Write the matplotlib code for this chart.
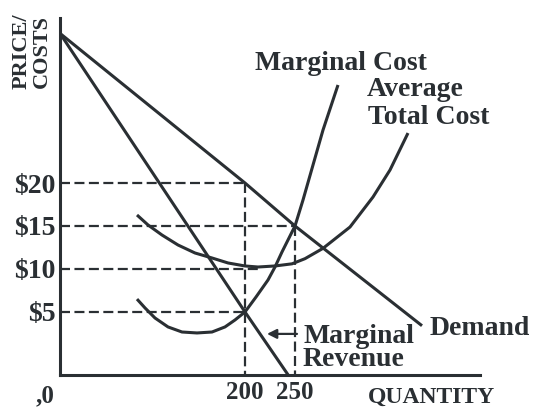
import numpy as np
import matplotlib.pyplot as plt

#-------------------------------------------------------------------------------
# Values (quantity, price in $)
demand_q = [15, 200, 250, 377]
demand_p = [37.4, 20, 15, 3.4]

mr_q = [15, 200, 243]
mr_p = [37.4, 5, -2.3]

mc_q = [92, 100, 110, 123, 137, 152, 167, 180, 190, 200, 211, 223, 230, 237,
        250, 258, 268, 278, 293]
mc_p = [6.5, 5.47, 4.3, 3.26, 2.67, 2.56, 2.67, 3.26, 4.07, 5.0, 6.74, 8.72,
        10.23, 11.98, 15.0, 18.02, 22.09, 26.16, 31.4]

atc_q = [92, 103, 117, 133, 150, 167, 183, 200, 213, 230, 247, 260, 278, 305,
         328, 345, 363]
atc_p = [16.28, 15.12, 13.95, 12.79, 11.86, 11.28, 10.7, 10.35, 10.23, 10.35,
         10.6, 11.2, 12.4, 14.88, 18.37, 21.51, 25.81]

guide_p = [20, 15, 10, 5]
guide_q = [200, 250, 213, 200]
drop_q = [200, 250]
drop_p = [20, 15]

price_ticks = [5, 10, 15, 20]
price_labels = [r'\$5', r'\$10', r'\$15', r'\$20']
qty_ticks = [200, 250]
qty_labels = ['200', '250']

#-------------------------------------------------------------------------------
W, H = 535, 408
INK = '#2a2f33'
SERIF = 'Liberation Serif'
plt.rcParams['font.family'] = SERIF
plt.rcParams['font.weight'] = 'bold'

fig = plt.figure(figsize=(W / 100, H / 100), dpi=100)
ax = fig.add_axes([60 / W, 1 - 375 / H, 420 / W, 357 / H])
ax.set_xlim(15, 435)
ax.set_ylim(-2.33, 39.19)

for side in ['top', 'right']:
    ax.spines[side].set_visible(False)
for side in ['left', 'bottom']:
    ax.spines[side].set_linewidth(2.2)
    ax.spines[side].set_color(INK)

# dashed guides
for q, p in zip(guide_q, guide_p):
    ax.plot([15, q], [p, p], color=INK, lw=1.6, dashes=(4.5, 2.0))
for q, p in zip(drop_q, drop_p):
    ax.plot([q, q], [p, -2.33], color=INK, lw=1.6, dashes=(4.5, 2.0))

# curves
curve_kw = dict(color=INK, lw=2.2, solid_capstyle='butt', solid_joinstyle='round')
ax.plot(demand_q, demand_p, **curve_kw)
ax.plot(mr_q, mr_p, **curve_kw)
ax.plot(mc_q, mc_p, **curve_kw)
ax.plot(atc_q, atc_p, **curve_kw)

# arrow to marginal revenue
ax.annotate('', xy=(222, 2.45), xytext=(252, 2.45),
            arrowprops=dict(arrowstyle='-|>', color=INK, lw=1.6,
                            mutation_scale=14, shrinkA=0, shrinkB=0))

ax.set_yticks(price_ticks, price_labels)
ax.set_xticks(qty_ticks, qty_labels)
ax.tick_params(axis='y', length=0, pad=3, labelsize=20, labelcolor=INK)
ax.tick_params(axis='x', length=0, pad=4, labelsize=18, labelcolor=INK)

#-------------------------------------------------------------------------------
def label(x, y, s, size=20, **kw):
    fig.text(x / W, 1 - y / H, s, fontsize=size, color=INK, family=SERIF,
             fontweight='bold', va='baseline', **kw)

label(255, 70, 'Marginal Cost')
label(367, 96, 'Average')
label(368, 124, 'Total Cost')
label(430, 335, 'Demand')
label(303, 343, 'Marginal')
label(303, 366, 'Revenue')
label(368, 403, 'QUANTITY', size=17)
label(54, 402, ',0', size=18, ha='right')

fig.text(32 / W, 1 - 51 / H, 'PRICE/\nCOSTS', fontsize=16, fontweight='bold',
         color=INK, family=SERIF, rotation=90, ha='center', va='center',
         linespacing=1.0)

fig.savefig('out.png', dpi=100, facecolor='white')
